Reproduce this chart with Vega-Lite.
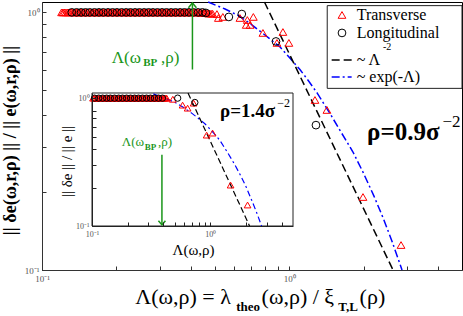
{
"$schema": "https://vega.github.io/schema/vega-lite/v6.json",
"width": 420, "height": 268,
"autosize": {"type": "none"},
"padding": {"left": 42, "top": 2, "right": 1, "bottom": 46},
"background": "white",
"config": {"font": "Liberation Serif", "view": {"stroke": "black", "strokeWidth": 1}, "axis": {"grid": false}},
"datasets": {
"one": [{}],
"mainT": [{"x":0.120,"y":1},{"x":0.1215,"y":1},{"x":0.123,"y":1},{"x":0.125,"y":1},{"x":0.127,"y":1},{"x":0.1285,"y":1},{"x":0.130,"y":1},{"x":0.132,"y":1},{"x":0.134,"y":1},{"x":0.136,"y":1},{"x":0.138,"y":1},{"x":0.1395,"y":1},{"x":0.141,"y":1},{"x":0.143,"y":1},{"x":0.145,"y":1},{"x":0.147,"y":1},{"x":0.149,"y":1},{"x":0.151,"y":1},{"x":0.153,"y":1},{"x":0.1555,"y":1},{"x":0.158,"y":1},{"x":0.160,"y":1},{"x":0.162,"y":1},{"x":0.1645,"y":1},{"x":0.167,"y":1},{"x":0.169,"y":1},{"x":0.171,"y":1},{"x":0.1735,"y":1},{"x":0.176,"y":1},{"x":0.1785,"y":1},{"x":0.181,"y":1},{"x":0.1835,"y":1},{"x":0.186,"y":1},{"x":0.1885,"y":1},{"x":0.191,"y":1},{"x":0.194,"y":1},{"x":0.197,"y":1},{"x":0.1995,"y":1},{"x":0.202,"y":1},{"x":0.205,"y":1},{"x":0.208,"y":1},{"x":0.211,"y":1},{"x":0.214,"y":1},{"x":0.217,"y":1},{"x":0.220,"y":1},{"x":0.223,"y":1},{"x":0.226,"y":1},{"x":0.229,"y":1},{"x":0.232,"y":1},{"x":0.2355,"y":1},{"x":0.239,"y":1},{"x":0.242,"y":1},{"x":0.245,"y":1},{"x":0.2485,"y":1},{"x":0.252,"y":1},{"x":0.2555,"y":1},{"x":0.259,"y":1},{"x":0.2625,"y":1},{"x":0.266,"y":1},{"x":0.270,"y":1},{"x":0.274,"y":1},{"x":0.2775,"y":1},{"x":0.281,"y":1},{"x":0.285,"y":1},{"x":0.289,"y":1},{"x":0.293,"y":1},{"x":0.297,"y":1},{"x":0.3015,"y":1},{"x":0.306,"y":1},{"x":0.310,"y":1},{"x":0.314,"y":1},{"x":0.3185,"y":1},{"x":0.323,"y":1},{"x":0.3275,"y":1},{"x":0.332,"y":1},{"x":0.3365,"y":1},{"x":0.341,"y":1},{"x":0.346,"y":1},{"x":0.351,"y":1},{"x":0.356,"y":1},{"x":0.361,"y":1},{"x":0.366,"y":1},{"x":0.371,"y":1},{"x":0.376,"y":1},{"x":0.381,"y":1},{"x":0.3865,"y":1},{"x":0.392,"y":1},{"x":0.3975,"y":1},{"x":0.403,"y":1},{"x":0.4085,"y":1},{"x":0.414,"y":1},{"x":0.420,"y":1},{"x":0.426,"y":1},{"x":0.432,"y":0.999},{"x":0.438,"y":0.998},{"x":0.444,"y":0.996},{"x":0.450,"y":0.995},{"x":0.456,"y":0.994},{"x":0.463,"y":0.993},{"x":0.470,"y":0.991},{"x":0.476,"y":0.99},{"x":0.483,"y":0.989},{"x":0.490,"y":0.988},{"x":0.510,"y":0.985},{"x":0.517,"y":0.951},{"x":0.539,"y":0.960},{"x":0.632,"y":0.951},{"x":0.677,"y":0.934},{"x":0.716,"y":0.960},{"x":0.670,"y":0.894},{"x":0.695,"y":0.894},{"x":0.783,"y":0.832},{"x":0.943,"y":0.839},{"x":0.892,"y":0.761},{"x":0.997,"y":0.761},{"x":1.271,"y":0.457},{"x":1.421,"y":0.418},{"x":1.988,"y":0.192},{"x":2.834,"y":0.125}],
"mainL": [{"x":0.132,"y":1},{"x":0.138,"y":1},{"x":0.144,"y":1},{"x":0.150,"y":1},{"x":0.156,"y":1},{"x":0.163,"y":1},{"x":0.170,"y":1},{"x":0.177,"y":1},{"x":0.185,"y":1},{"x":0.193,"y":1},{"x":0.201,"y":1},{"x":0.210,"y":1},{"x":0.219,"y":1},{"x":0.228,"y":1},{"x":0.238,"y":1},{"x":0.248,"y":1},{"x":0.259,"y":1},{"x":0.270,"y":1},{"x":0.281,"y":1},{"x":0.293,"y":1},{"x":0.306,"y":1},{"x":0.319,"y":1},{"x":0.333,"y":1},{"x":0.347,"y":1},{"x":0.362,"y":1},{"x":0.377,"y":1},{"x":0.393,"y":1},{"x":0.410,"y":1},{"x":0.428,"y":1},{"x":0.446,"y":1},{"x":0.460,"y":0.995},{"x":0.570,"y":0.960},{"x":0.643,"y":0.985},{"x":0.884,"y":0.771},{"x":1.283,"y":0.365}],
"mainPow": [{"x":0.794,"y":1.097},{"x":2.63,"y":0.1}],
"mainExp": [{"x":0.47,"y":1.097},{"x":0.55,"y":1.03},{"x":0.626,"y":0.97},{"x":0.7,"y":0.90},{"x":0.8,"y":0.815},{"x":0.917,"y":0.735},{"x":1.0,"y":0.67},{"x":1.105,"y":0.60},{"x":1.2,"y":0.54},{"x":1.3,"y":0.485},{"x":1.462,"y":0.405},{"x":1.6,"y":0.35},{"x":1.811,"y":0.287},{"x":2.0,"y":0.237},{"x":2.2,"y":0.194},{"x":2.4,"y":0.159},{"x":2.6,"y":0.130},{"x":2.86,"y":0.100}],
"insetT": [{"x":0.102,"y":1},{"x":0.1045,"y":1},{"x":0.107,"y":1},{"x":0.1095,"y":1},{"x":0.112,"y":1},{"x":0.115,"y":1},{"x":0.118,"y":1},{"x":0.121,"y":1},{"x":0.124,"y":1},{"x":0.127,"y":1},{"x":0.130,"y":1},{"x":0.1335,"y":1},{"x":0.137,"y":1},{"x":0.140,"y":1},{"x":0.143,"y":1},{"x":0.1465,"y":1},{"x":0.150,"y":1},{"x":0.154,"y":1},{"x":0.158,"y":1},{"x":0.162,"y":1},{"x":0.166,"y":1},{"x":0.170,"y":1},{"x":0.174,"y":1},{"x":0.1785,"y":1},{"x":0.183,"y":1},{"x":0.1875,"y":1},{"x":0.192,"y":1},{"x":0.197,"y":1},{"x":0.202,"y":1},{"x":0.207,"y":1},{"x":0.212,"y":1},{"x":0.217,"y":1},{"x":0.222,"y":1},{"x":0.2275,"y":1},{"x":0.233,"y":1},{"x":0.239,"y":1},{"x":0.245,"y":1},{"x":0.251,"y":1},{"x":0.257,"y":1},{"x":0.2635,"y":1},{"x":0.270,"y":1},{"x":0.277,"y":1},{"x":0.284,"y":1},{"x":0.291,"y":1},{"x":0.298,"y":1},{"x":0.3055,"y":1},{"x":0.313,"y":1},{"x":0.3205,"y":1},{"x":0.328,"y":1},{"x":0.3365,"y":1},{"x":0.345,"y":1},{"x":0.3535,"y":1},{"x":0.362,"y":1},{"x":0.371,"y":1},{"x":0.380,"y":1},{"x":0.3895,"y":1},{"x":0.399,"y":1},{"x":0.409,"y":1},{"x":0.419,"y":1},{"x":0.428,"y":1},{"x":0.482,"y":0.98},{"x":0.583,"y":0.882},{"x":0.643,"y":0.835},{"x":0.723,"y":0.914},{"x":0.931,"y":0.514},{"x":1.046,"y":0.533},{"x":1.484,"y":0.209},{"x":2.065,"y":0.146}],
"insetL": [{"x":0.105,"y":1},{"x":0.114,"y":1},{"x":0.123,"y":1},{"x":0.133,"y":1},{"x":0.143,"y":1},{"x":0.155,"y":1},{"x":0.168,"y":1},{"x":0.181,"y":1},{"x":0.196,"y":1},{"x":0.212,"y":1},{"x":0.229,"y":1},{"x":0.247,"y":1},{"x":0.267,"y":1},{"x":0.289,"y":1},{"x":0.312,"y":1},{"x":0.337,"y":1},{"x":0.365,"y":1},{"x":0.394,"y":1},{"x":0.530,"y":1},{"x":0.740,"y":0.925}],
"insetPow": [{"x":0.648,"y":1.097},{"x":2.148,"y":0.1}],
"insetExp": [{"x":0.33,"y":1.08},{"x":0.4,"y":1.01},{"x":0.5,"y":0.93},{"x":0.6,"y":0.84},{"x":0.7,"y":0.76},{"x":0.8,"y":0.69},{"x":0.9,"y":0.63},{"x":1.0,"y":0.57},{"x":1.2,"y":0.47},{"x":1.4,"y":0.375},{"x":1.6,"y":0.305},{"x":1.8,"y":0.249},{"x":2.0,"y":0.204},{"x":2.277,"y":0.153},{"x":2.5,"y":0.123},{"x":2.713,"y":0.1}]
},
"resolve": {"scale": {"x": "independent", "y": "independent"}},
"layer": [
{
"layer": [
{"data": {"name": "mainExp"}, "mark": {"type": "line", "stroke": "#0000ff", "strokeWidth": 1.5, "strokeDash": [8,3,2,3]},
 "encoding": {
  "x": {"field": "x", "type": "quantitative", "scale": {"type": "log", "domain": [0.1, 5], "nice": false},
        "axis": {"values": [0.1,0.2,0.3,0.4,0.5,0.6,0.7,0.8,0.9,1,2,3,4], "labelExpr": "datum.value == 1 ? '10⁰' : (datum.value == 0.1 ? '10⁻¹' : '')", "labelFlush": false, "labelOverlap": false, "tickSize": -4, "labelPadding": 8, "labelFontSize": 9, "labelColor": "#555", "domainColor": "#333", "tickColor": "#333", "title": null}},
  "y": {"field": "y", "type": "quantitative", "scale": {"type": "log", "domain": [0.1, 1.097], "nice": false},
        "axis": {"values": [0.1,0.2,0.3,0.4,0.5,0.6,0.7,0.8,0.9,1], "labelExpr": "datum.value == 1 ? '10⁰' : (datum.value == 0.1 ? '10⁻¹' : '')", "labelFlush": false, "labelOverlap": false, "tickSize": -4, "labelPadding": 7, "labelFontSize": 9, "labelColor": "#555", "domainColor": "#333", "tickColor": "#333",
                 "title": "|| δe(ω,r,ρ) || / || e(ω,r,ρ) ||", "titleFontSize": 18, "titleFontWeight": "bold", "titleX": -32, "titleY": 138, "titleAlign": "center", "titleBaseline": "middle", "titleAngle": 270}}
 }},
{"data": {"name": "mainPow"}, "mark": {"type": "line", "stroke": "black", "strokeWidth": 1.5, "strokeDash": [8,4]},
 "encoding": {"x": {"field": "x", "type": "quantitative"}, "y": {"field": "y", "type": "quantitative"}}},
{"data": {"name": "mainT"}, "mark": {"type": "point", "shape": "triangle-up", "filled": false, "stroke": "#ff0000", "strokeWidth": 1, "size": 60, "opacity": 1},
 "encoding": {"x": {"field": "x", "type": "quantitative"}, "y": {"field": "y", "type": "quantitative"}}},
{"data": {"name": "mainL"}, "mark": {"type": "point", "shape": "circle", "filled": false, "stroke": "black", "strokeWidth": 1, "size": 60, "opacity": 1},
 "encoding": {"x": {"field": "x", "type": "quantitative"}, "y": {"field": "y", "type": "quantitative"}}},
{"data": {"name": "one"}, "mark": {"type": "rule", "stroke": "#1a961a", "strokeWidth": 1.5},
 "encoding": {"x": {"datum": 0.406}, "y": {"datum": 0.6}, "y2": {"datum": 1.088}}},
{"data": {"name": "one"}, "mark": {"type": "point", "shape": "M-1,1.2L0,0L1,1.2", "filled": false, "stroke": "#1a961a", "strokeWidth": 1.5, "size": 64, "opacity": 1},
 "encoding": {"x": {"datum": 0.406}, "y": {"datum": 1.088}}},
{"data": {"name": "one"}, "mark": {"type": "text", "fontSize": 17, "color": "#1a961a", "baseline": "middle", "align": "center"},
 "encoding": {"x": {"datum": 0.2193}, "y": {"datum": 0.665}, "text": {"value": "Λ(ω"}}},
{"data": {"name": "one"}, "mark": {"type": "text", "fontSize": 11, "fontWeight": "bold", "color": "#1a961a", "baseline": "middle", "align": "center"},
 "encoding": {"x": {"datum": 0.2742}, "y": {"datum": 0.636}, "text": {"value": "BP"}}},
{"data": {"name": "one"}, "mark": {"type": "text", "fontSize": 17, "color": "#1a961a", "baseline": "middle", "align": "center"},
 "encoding": {"x": {"datum": 0.3300}, "y": {"datum": 0.665}, "text": {"value": ",ρ)"}}},
{"data": {"name": "one"}, "mark": {"type": "rect", "fill": "white", "stroke": "#222", "strokeWidth": 1},
 "encoding": {"x": {"datum": 1.425}, "x2": {"datum": 5}, "y": {"datum": 0.507}, "y2": {"datum": 1.062}}},
{"data": {"name": "one"}, "mark": {"type": "point", "shape": "triangle-up", "filled": false, "stroke": "#ff0000", "strokeWidth": 1, "size": 60, "opacity": 1},
 "encoding": {"x": {"datum": 1.635}, "y": {"datum": 0.977}}},
{"data": {"name": "one"}, "mark": {"type": "point", "shape": "circle", "filled": false, "stroke": "black", "strokeWidth": 1, "size": 60, "opacity": 1},
 "encoding": {"x": {"datum": 1.635}, "y": {"datum": 0.832}}},
{"data": {"name": "one"}, "mark": {"type": "rule", "stroke": "black", "strokeWidth": 1.5, "strokeDash": [8,4]},
 "encoding": {"x": {"datum": 1.485}, "x2": {"datum": 1.789}, "y": {"datum": 0.653}}},
{"data": {"name": "one"}, "mark": {"type": "rule", "stroke": "#0000ff", "strokeWidth": 1.5, "strokeDash": [8,3,2,3]},
 "encoding": {"x": {"datum": 1.485}, "x2": {"datum": 1.789}, "y": {"datum": 0.561}}},
{"data": {"name": "one"}, "mark": {"type": "text", "fontSize": 16, "color": "black", "baseline": "middle", "align": "left"},
 "encoding": {"x": {"datum": 1.875}, "y": {"datum": 0.977}, "text": {"value": "Transverse"}}},
{"data": {"name": "one"}, "mark": {"type": "text", "fontSize": 16, "color": "black", "baseline": "middle", "align": "left"},
 "encoding": {"x": {"datum": 1.875}, "y": {"datum": 0.832}, "text": {"value": "Longitudinal"}}},
{"data": {"name": "one"}, "mark": {"type": "text", "fontSize": 16, "color": "black", "baseline": "middle", "align": "left"},
 "encoding": {"x": {"datum": 1.875}, "y": {"datum": 0.653}, "text": {"value": "~ Λ"}}},
{"data": {"name": "one"}, "mark": {"type": "text", "fontSize": 10, "color": "black", "baseline": "middle", "align": "left"},
 "encoding": {"x": {"datum": 2.395}, "y": {"datum": 0.737}, "text": {"value": "-2"}}},
{"data": {"name": "one"}, "mark": {"type": "text", "fontSize": 16, "color": "black", "baseline": "middle", "align": "left"},
 "encoding": {"x": {"datum": 1.875}, "y": {"datum": 0.561}, "text": {"value": "~ exp(-Λ)"}}},
{"data": {"name": "one"}, "mark": {"type": "text", "fontSize": 25, "fontWeight": "bold", "color": "black", "baseline": "middle", "align": "center"},
 "encoding": {"x": {"datum": 2.894}, "y": {"datum": 0.344}, "text": {"value": "ρ=0.9σ"}}},
{"data": {"name": "one"}, "mark": {"type": "text", "fontSize": 17, "color": "black", "baseline": "middle", "align": "center"},
 "encoding": {"x": {"datum": 4.537}, "y": {"datum": 0.3754}, "text": {"value": "−2"}}},
{"data": {"name": "one"}, "mark": {"type": "text", "fontSize": 22, "color": "black", "baseline": "middle", "align": "center"},
 "encoding": {"x": {"datum": 0.372}, "y": {"datum": 0.0786}, "text": {"value": "Λ(ω,ρ) = λ"}}},
{"data": {"name": "one"}, "mark": {"type": "text", "fontSize": 13, "fontWeight": "bold", "color": "black", "baseline": "middle", "align": "center"},
 "encoding": {"x": {"datum": 0.682}, "y": {"datum": 0.0718}, "text": {"value": "theo"}}},
{"data": {"name": "one"}, "mark": {"type": "text", "fontSize": 22, "color": "black", "baseline": "middle", "align": "center"},
 "encoding": {"x": {"datum": 1.084}, "y": {"datum": 0.0786}, "text": {"value": "(ω,ρ) / ξ"}}},
{"data": {"name": "one"}, "mark": {"type": "text", "fontSize": 13, "fontWeight": "bold", "color": "black", "baseline": "middle", "align": "center"},
 "encoding": {"x": {"datum": 1.729}, "y": {"datum": 0.0718}, "text": {"value": "T,L"}}},
{"data": {"name": "one"}, "mark": {"type": "text", "fontSize": 22, "color": "black", "baseline": "middle", "align": "center"},
 "encoding": {"x": {"datum": 2.17}, "y": {"datum": 0.0786}, "text": {"value": "(ρ)"}}}
]
},
{
"layer": [
{"data": {"name": "one"}, "mark": {"type": "rect", "fill": "white", "stroke": "#222", "strokeWidth": 1},
 "encoding": {
  "x": {"datum": 0.1, "type": "quantitative", "scale": {"type": "log", "domain": [0.1, 5], "range": [50, 251], "nice": false},
        "axis": {"orient": "bottom", "offset": -44, "zindex": 1, "values": [0.1,0.2,0.3,0.4,0.5,0.6,0.7,0.8,0.9,1,2,3,4], "labelExpr": "datum.value == 1 ? '10⁰' : (datum.value == 0.1 ? '10⁻¹' : '')", "labelFlush": false, "labelOverlap": false, "tickSize": -4, "labelPadding": 8, "labelFontSize": 8, "labelColor": "#555", "domainColor": "#222", "tickColor": "#222",
                 "title": "Λ(ω,ρ)", "titleFontSize": 15, "titleFontWeight": "normal", "titleX": 151, "titleY": 23, "titleAlign": "center", "titleBaseline": "middle"}},
  "x2": {"datum": 5},
  "y": {"datum": 0.1, "type": "quantitative", "scale": {"type": "log", "domain": [0.1, 1.097], "range": [224, 91], "nice": false},
        "axis": {"orient": "left", "offset": -50, "zindex": 1, "values": [0.1,0.2,0.3,0.4,0.5,0.6,0.7,0.8,1], "labelExpr": "datum.value == 1 ? '10⁰' : (datum.value == 0.1 ? '10⁻¹' : '')", "labelFlush": false, "labelOverlap": false, "tickSize": -4, "labelPadding": 7, "labelFontSize": 8, "labelColor": "#555", "domainColor": "#222", "tickColor": "#222",
                 "title": "|| δe || / || e ||", "titleFontSize": 15, "titleFontWeight": "normal", "titleX": -26, "titleY": 159, "titleAlign": "center", "titleBaseline": "middle", "titleAngle": 270}},
  "y2": {"datum": 1.097}
 }},
{"data": {"name": "insetExp"}, "mark": {"type": "line", "stroke": "#0000ff", "strokeWidth": 1.2, "strokeDash": [6,3,2,3]},
 "encoding": {"x": {"field": "x", "type": "quantitative"}, "y": {"field": "y", "type": "quantitative"}}},
{"data": {"name": "insetPow"}, "mark": {"type": "line", "stroke": "black", "strokeWidth": 1.2, "strokeDash": [6,3]},
 "encoding": {"x": {"field": "x", "type": "quantitative"}, "y": {"field": "y", "type": "quantitative"}}},
{"data": {"name": "insetT"}, "mark": {"type": "point", "shape": "triangle-up", "filled": false, "stroke": "#ff0000", "strokeWidth": 1, "size": 45, "opacity": 1},
 "encoding": {"x": {"field": "x", "type": "quantitative"}, "y": {"field": "y", "type": "quantitative"}}},
{"data": {"name": "insetL"}, "mark": {"type": "point", "shape": "circle", "filled": false, "stroke": "black", "strokeWidth": 1, "size": 40, "opacity": 1},
 "encoding": {"x": {"field": "x", "type": "quantitative"}, "y": {"field": "y", "type": "quantitative"}}},
{"data": {"name": "one"}, "mark": {"type": "rule", "stroke": "#1a961a", "strokeWidth": 1.5},
 "encoding": {"x": {"datum": 0.39}, "y": {"datum": 0.36}, "y2": {"datum": 0.102}}},
{"data": {"name": "one"}, "mark": {"type": "point", "shape": "M-1,-1.2L0,0L1,-1.2", "filled": false, "stroke": "#1a961a", "strokeWidth": 1.5, "size": 49, "opacity": 1},
 "encoding": {"x": {"datum": 0.39}, "y": {"datum": 0.102}}},
{"data": {"name": "one"}, "mark": {"type": "text", "fontSize": 13, "color": "#1a961a", "baseline": "middle", "align": "center"},
 "encoding": {"x": {"datum": 0.222}, "y": {"datum": 0.4556}, "text": {"value": "Λ(ω"}}},
{"data": {"name": "one"}, "mark": {"type": "text", "fontSize": 9, "fontWeight": "bold", "color": "#1a961a", "baseline": "middle", "align": "center"},
 "encoding": {"x": {"datum": 0.312}, "y": {"datum": 0.4165}, "text": {"value": "BP"}}},
{"data": {"name": "one"}, "mark": {"type": "text", "fontSize": 13, "color": "#1a961a", "baseline": "middle", "align": "center"},
 "encoding": {"x": {"datum": 0.415}, "y": {"datum": 0.4556}, "text": {"value": ",ρ)"}}},
{"data": {"name": "one"}, "mark": {"type": "text", "fontSize": 19, "fontWeight": "bold", "color": "black", "baseline": "middle", "align": "center"},
 "encoding": {"x": {"datum": 2.065}, "y": {"datum": 0.787}, "text": {"value": "ρ=1.4σ"}}},
{"data": {"name": "one"}, "mark": {"type": "text", "fontSize": 12, "color": "black", "baseline": "middle", "align": "center"},
 "encoding": {"x": {"datum": 4.16}, "y": {"datum": 0.914}, "text": {"value": "−2"}}}
]
}
]
}
